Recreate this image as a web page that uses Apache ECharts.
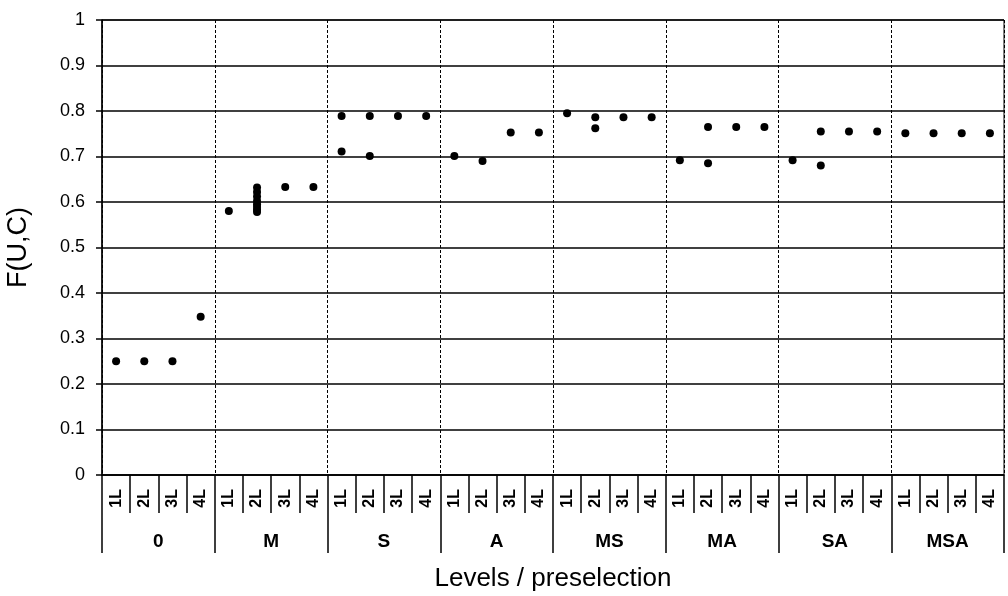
<!DOCTYPE html>
<html>
<head>
<meta charset="utf-8">
<script src="https://cdn.jsdelivr.net/npm/echarts@6/dist/echarts.min.js"></script>
<style>
html,body{margin:0;padding:0;background:#fff;}
#chart{width:1008px;height:596px;}
</style>
</head>
<body>
<div id="chart"></div>
<script>
// ---- data ----
const groups = ['0', 'M', 'S', 'A', 'MS', 'MA', 'SA', 'MSA'];
const levels = ['1L', '2L', '3L', '4L'];
const yTicks = [0, 0.1, 0.2, 0.3, 0.4, 0.5, 0.6, 0.7, 0.8, 0.9, 1];
// values per group: one list per level (1L..4L)
const vals_0   = [[0.25], [0.25], [0.25], [0.348]];
const vals_M   = [[0.58], [0.632, 0.622, 0.612, 0.602, 0.595, 0.589, 0.583, 0.578], [0.633], [0.633]];
const vals_S   = [[0.789, 0.711], [0.789, 0.701], [0.789], [0.789]];
const vals_A   = [[0.701], [0.69], [0.753], [0.753]];
const vals_MS  = [[0.795], [0.786, 0.762], [0.786], [0.786]];
const vals_MA  = [[0.692], [0.765, 0.685], [0.765], [0.765]];
const vals_SA  = [[0.692], [0.755, 0.68], [0.755], [0.755]];
const vals_MSA = [[0.751], [0.751], [0.751], [0.751]];
const allVals = [vals_0, vals_M, vals_S, vals_A, vals_MS, vals_MA, vals_SA, vals_MSA];

// ---- build ----
const cats = [];
const points = [];
groups.forEach((g, gi) => {
  levels.forEach((l, li) => {
    const idx = gi * levels.length + li;
    cats.push(g + '|' + l);
    allVals[gi][li].forEach(v => points.push([idx, v]));
  });
});

const chart = echarts.init(document.getElementById('chart'), null, {renderer: 'canvas'});
const FONT = 'Liberation Sans, Arial, sans-serif';
chart.setOption({
  animation: false,
  backgroundColor: '#fff',
  grid: {left: 102, right: 4, top: 20, bottom: 121, show: true, borderColor: '#000', borderWidth: 1,
    backgroundColor: 'transparent', containLabel: false, outerBoundsMode: 'none'},
  xAxis: [
    {
      type: 'category',
      data: cats,
      position: 'bottom',
      boundaryGap: true,
      axisLine: {show: true, lineStyle: {color: '#000', width: 1.5}},
      axisTick: {show: true, interval: 0, length: 38, lineStyle: {color: '#000', width: 1.5}},
      axisLabel: {
        interval: 0, rotate: 90, margin: 14,
        fontFamily: FONT, fontSize: 16, fontWeight: 'bold', color: '#000',
        formatter: v => v.split('|')[1]
      },
      splitLine: {show: false}
    },
    {
      type: 'category',
      data: groups,
      position: 'bottom',
      offset: 0,
      boundaryGap: true,
      axisLine: {show: false},
      axisTick: {show: true, interval: 0, length: 78, lineStyle: {color: '#000', width: 1.5}},
      axisLabel: {interval: 0, margin: 57, fontFamily: FONT, fontSize: 19, fontWeight: 'bold', color: '#000'},
      splitLine: {show: true, interval: 0, lineStyle: {color: '#000', width: 1, type: [3, 2]}},
      name: 'Levels / preselection',
      nameLocation: 'middle',
      nameGap: 91,
      nameTextStyle: {fontFamily: FONT, fontSize: 26, color: '#000'}
    }
  ],
  yAxis: {
    type: 'value',
    min: 0, max: 1, interval: 0.1,
    axisLine: {show: true, lineStyle: {color: '#000', width: 1.5}},
    axisTick: {show: true, length: 6, inside: false, lineStyle: {color: '#000', width: 1.5}},
    axisLabel: {margin: 17, fontFamily: FONT, fontSize: 18, color: '#000',
      formatter: v => { const t = yTicks.find(x => Math.abs(x - v) < 1e-9); return String(t !== undefined ? t : v); }},
    splitLine: {show: true, lineStyle: {color: '#000', width: 1.5}},
    name: 'F(U,C)',
    nameLocation: 'middle',
    nameGap: 70,
    nameRotate: 90,
    nameTextStyle: {fontFamily: FONT, fontSize: 27, color: '#000'}
  },
  series: [{
    type: 'scatter',
    xAxisIndex: 0,
    data: points,
    symbol: 'circle',
    symbolSize: 8,
    itemStyle: {color: '#000', opacity: 1},
    z: 5
  }]
});
</script>
</body>
</html>
